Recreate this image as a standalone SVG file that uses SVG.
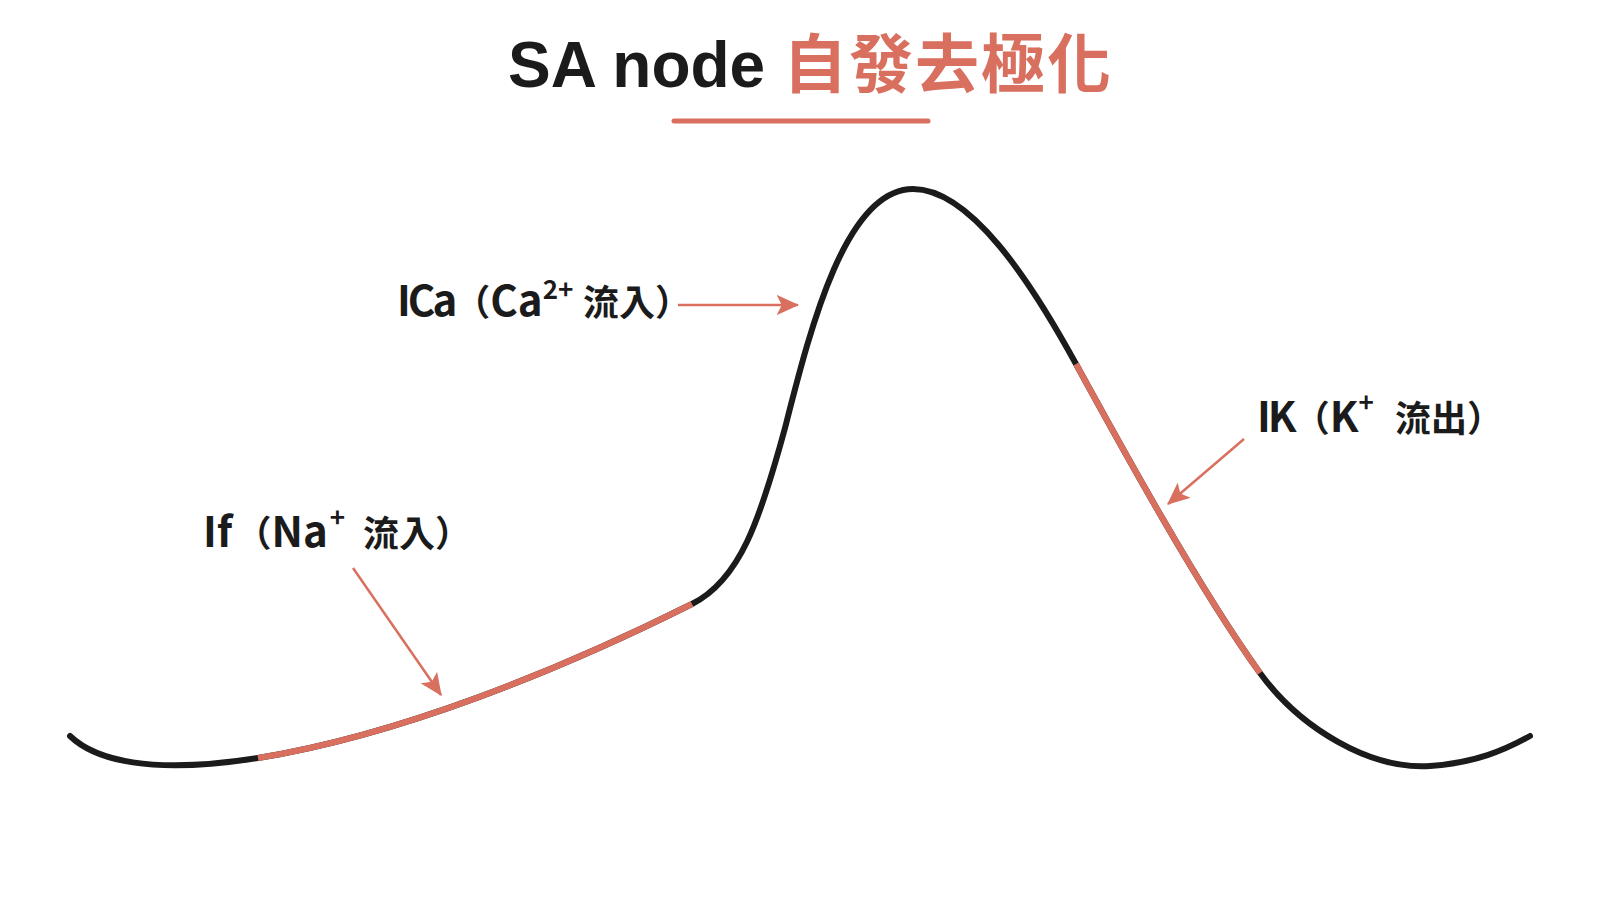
<svg xmlns="http://www.w3.org/2000/svg" width="1600" height="900" viewBox="0 0 1600 900">
  <style>
    .title-lat { font-family: "Liberation Sans", Arial, sans-serif; font-weight: 700; fill: #1b1b1b; }
    .title-cjk { font-family: "Noto Sans CJK TC", "Noto Sans", sans-serif; font-weight: 700; fill: #d9705f; letter-spacing: 2px; }
    .lbl { font-family: "Noto Sans CJK TC", "Noto Sans", sans-serif; font-weight: 700; font-size: 42px; fill: #1b1b1b; }
    .tight { letter-spacing: -3px; }
    .cjk { font-size: 36px; }
    .sup { font-size: 26px; }
    .curve-k { fill: none; stroke: #1b1b1b; stroke-width: 6; stroke-linecap: round; }
    .curve-s { fill: none; stroke: #d9705f; stroke-width: 6; stroke-linecap: butt; }
    .arrow { fill: none; stroke: #d9705f; stroke-width: 2.5; marker-end: url(#ah); }
  </style>
  <defs>
    <marker id="ah" markerWidth="9" markerHeight="8" refX="8.5" refY="4" orient="auto" markerUnits="strokeWidth">
      <path d="M0,0 L9,4 L0,8 L2,4 Z" fill="#d9705f"/>
    </marker>
  </defs>
  <rect width="1600" height="900" fill="#ffffff"/>

  <g id="title">
    <text x="508" y="87" font-size="64"><tspan class="title-lat">SA node </tspan><tspan class="title-cjk">自發去極化</tspan></text>
    <line x1="674" y1="121" x2="928" y2="121" stroke="#d9705f" stroke-width="5" stroke-linecap="round"/>
  </g>

  <g id="curve">
    <path class="curve-k" d="M70,736 C95,760 150,775 258,758 C400,735 560,670 692,604 C740,580 760,520 785,428 C810,330 845,189 913,189 C970,189 1030,280 1076,364 C1122,448 1200,590 1260,673 C1300,728 1370,770 1430,766 C1475,763 1505,750 1530,736"/>
    <path id="seg-if" class="curve-s" d="M258,758 C400,735 560,670 692,604"/>
    <path id="seg-ik" class="curve-s" d="M1076,364 C1122,448 1200,590 1260,673"/>
  </g>

  <g id="connectors">
    <path class="arrow" d="M678,305 L798,305"/>
    <path class="arrow" d="M1244,439 L1168,504"/>
    <path class="arrow" d="M353,568 L441,695"/>
  </g>

  <g id="label-ica">
    <text class="lbl" x="397" y="316"><tspan class="tight">ICa</tspan><tspan class="cjk">（</tspan>Ca<tspan class="sup" dy="-17">2+</tspan><tspan class="cjk" x="583" dy="17">流入）</tspan></text>
  </g>
  <g id="label-ik">
    <text class="lbl" x="1257" y="432"><tspan class="tight">IK</tspan><tspan class="cjk">（</tspan>K<tspan class="sup" dy="-20">+</tspan><tspan class="cjk" x="1395" dy="20">流出）</tspan></text>
  </g>
  <g id="label-if">
    <text class="lbl" x="203" y="547">If<tspan class="cjk" dx="3">（</tspan>Na<tspan class="sup" dx="2" dy="-20">+</tspan><tspan class="cjk" x="363" dy="20">流入）</tspan></text>
  </g>
</svg>
